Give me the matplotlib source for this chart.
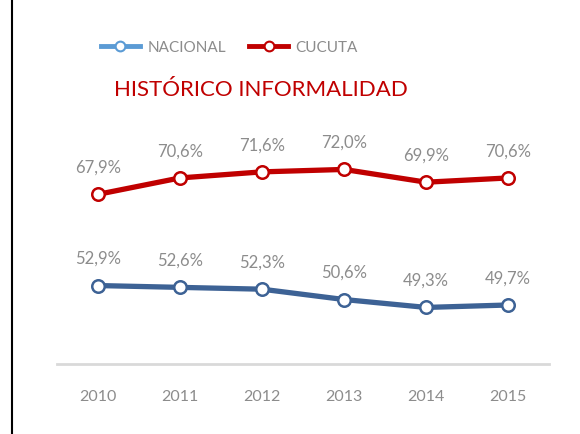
import matplotlib.pyplot as plt
from matplotlib.lines import Line2D

# datos
anios = ["2010", "2011", "2012", "2013", "2014", "2015"]
nacional = [52.9, 52.6, 52.3, 50.6, 49.3, 49.7]
cucuta = [67.9, 70.6, 71.6, 72.0, 69.9, 70.6]

plt.rcParams['font.family'] = ['Lato', 'DejaVu Sans']

gris = "#8c8c8c"
rojo = "#c00000"
azul = "#3d6295"
azul_leyenda = "#5b9bd5"

fig = plt.figure(figsize=(5.8, 4.35), dpi=100)
ax = fig.add_axes([0.098, 0.161, 0.849, 0.559])

x = list(range(len(anios)))
ax.plot(x, nacional, color=azul, lw=3.8, marker="o", ms=9,
        mfc="white", mec=azul, mew=1.8, zorder=3)
ax.plot(x, cucuta, color=rojo, lw=3.8, marker="o", ms=9,
        mfc="white", mec=rojo, mew=1.8, zorder=3)

for xi, v in zip(x, nacional):
    ax.annotate(f"{v:.1f}%".replace(".", ","), (xi, v), xytext=(0, 14),
                textcoords="offset points", ha="center", va="bottom",
                color=gris, fontsize=12)
for xi, v in zip(x, cucuta):
    ax.annotate(f"{v:.1f}%".replace(".", ","), (xi, v), xytext=(0, 14),
                textcoords="offset points", ha="center", va="bottom",
                color=gris, fontsize=12)

ax.set_xlim(-0.5, 5.5)
ax.set_ylim(40, 80)
ax.set_xticks(x)
ax.set_xticklabels(anios, color=gris, fontsize=11.5)
ax.tick_params(axis="x", length=0, pad=18)
ax.set_yticks([])
for s in ["top", "right", "left"]:
    ax.spines[s].set_visible(False)
ax.spines["bottom"].set_color("#d9d9d9")
ax.spines["bottom"].set_linewidth(2)

# titulo
fig.text(0.197, 0.793, "HISTÓRICO INFORMALIDAD", color=rojo, fontsize=16,
         ha="left", va="center")

# leyenda
handles = [
    Line2D([], [], color=azul_leyenda, lw=3.5, marker="o", ms=7, mfc="white",
           mec=azul_leyenda, mew=1.5),
    Line2D([], [], color=rojo, lw=3.5, marker="o", ms=7, mfc="white",
           mec=rojo, mew=1.5),
]
fig.legend(handles, ["NACIONAL", "CUCUTA"], loc="center", ncol=2,
           bbox_to_anchor=(0.395, 0.89), frameon=False, fontsize=11,
           labelcolor=gris, handlelength=2.6, handletextpad=0.45,
           columnspacing=1.5)

# borde izquierdo
fig.add_artist(Line2D([0.021, 0.021], [0, 1], color="black", lw=1.5,
                      transform=fig.transFigure))

fig.savefig("out.png", dpi=100)
